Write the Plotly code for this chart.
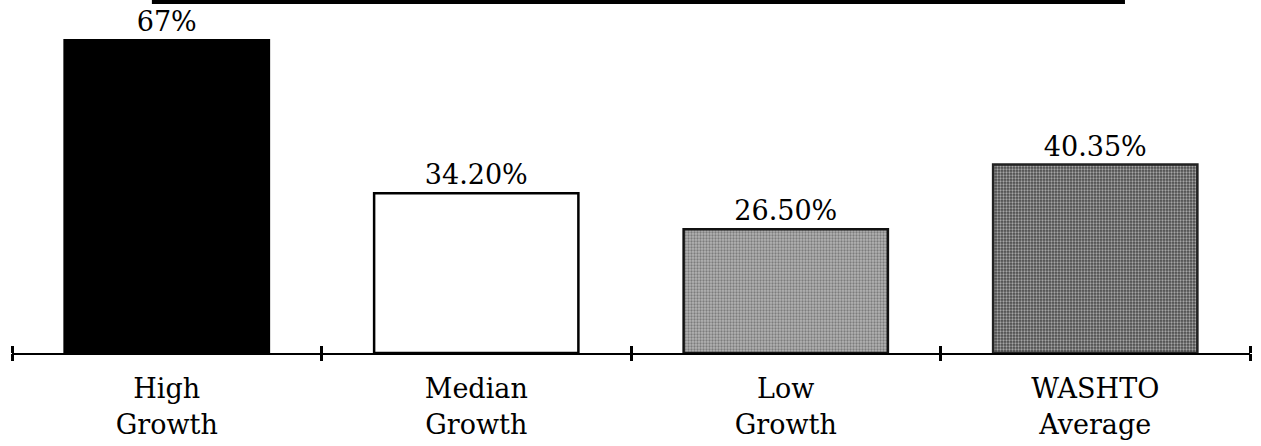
import plotly.graph_objects as go

# Share of growth by scenario
categories = ["High<br>Growth", "Median<br>Growth", "Low<br>Growth", "WASHTO<br>Average"]
values = [67, 34.20, 26.50, 40.35]
labels = ["67%", "34.20%", "26.50%", "40.35%"]

fill_colors = ["#000000", "#ffffff", "#b4b4b4", "#4a4a4a"]
line_colors = ["#000000", "#000000", "#111111", "#222222"]
pattern_shapes = ["", "", ".", "."]
pattern_fg = ["#000000", "#000000", "#3a3a3a", "#111111"]

positions = list(range(len(categories)))
boundaries = [p - 0.5 for p in positions] + [positions[-1] + 0.5]
xrange = [boundaries[0], boundaries[-1]]

serif = "DejaVu Serif, Liberation Serif, serif"

fig = go.Figure()
fig.add_trace(go.Bar(
    x=positions,
    y=values,
    width=0.66,
    text=labels,
    textposition="outside",
    textfont=dict(family=serif, size=27, color="#000000"),
    cliponaxis=False,
    marker=dict(
        color=fill_colors,
        line=dict(color=line_colors, width=2.5),
        pattern=dict(shape=pattern_shapes, fgcolor=pattern_fg, size=3, solidity=0.45),
    ),
    hoverinfo="skip",
    showlegend=False,
))

# empty trace so the overlaid tick axis is drawn
fig.add_trace(go.Scatter(x=[None], y=[None], xaxis="x2", yaxis="y",
                         mode="markers", hoverinfo="skip", showlegend=False))

fig.update_layout(
    width=1261,
    height=446,
    margin=dict(l=12, r=11, t=0, b=93),
    paper_bgcolor="#ffffff",
    plot_bgcolor="#ffffff",
    xaxis=dict(
        range=xrange,
        tickvals=positions,
        ticktext=categories,
        ticks="",
        minor=dict(
            tickmode="array",
            tickvals=boundaries,
            ticks="inside",
            ticklen=7,
            tickwidth=3,
            tickcolor="#000000",
            showgrid=False,
        ),
        showgrid=False,
        zeroline=False,
        showline=True,
        linecolor="#000000",
        linewidth=2,
        tickfont=dict(family=serif, size=27, color="#000000"),
        ticklabelstandoff=11,
    ),
    xaxis2=dict(
        overlaying="x",
        range=xrange,
        tickvals=boundaries,
        showticklabels=False,
        ticks="outside",
        ticklen=7,
        tickwidth=3,
        tickcolor="#000000",
        showgrid=False,
        zeroline=False,
        showline=False,
        anchor="y",
        side="bottom",
    ),
    yaxis=dict(
        range=[0, 75.6],
        visible=False,
        showgrid=False,
        zeroline=False,
    ),
)

# rule across the top of the panel
fig.add_shape(type="line", xref="paper", yref="paper",
              x0=0.113, x1=0.899, y0=0.994, y1=0.994,
              line=dict(color="#000000", width=4))

fig.write_html("out.html")
